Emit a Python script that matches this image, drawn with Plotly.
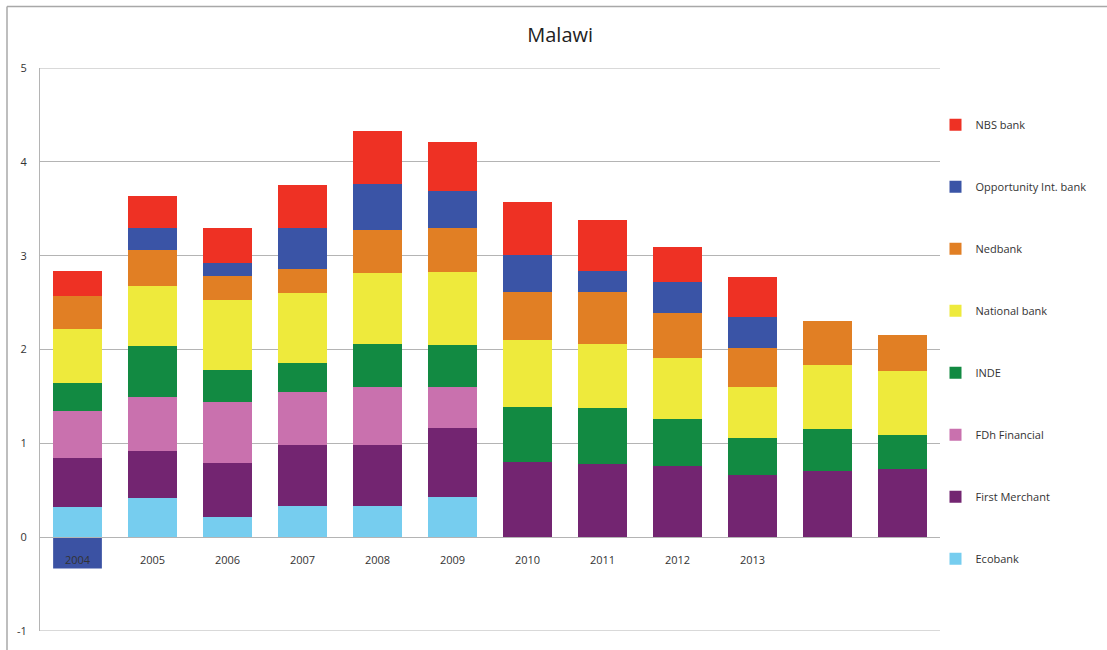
import plotly.graph_objects as go

years = ["2004", "2005", "2006", "2007", "2008", "2009", "2010", "2011", "2012", "2013", "", ""]

ecobank = [0.32, 0.42, 0.22, 0.33, 0.33, 0.43, 0, 0, 0, 0, 0, 0]
first_merchant = [0.52, 0.50, 0.57, 0.65, 0.65, 0.73, 0.80, 0.78, 0.76, 0.66, 0.71, 0.73]
fdh_financial = [0.50, 0.57, 0.65, 0.57, 0.62, 0.44, 0, 0, 0, 0, 0, 0]
inde = [0.30, 0.55, 0.34, 0.31, 0.46, 0.45, 0.59, 0.60, 0.50, 0.40, 0.44, 0.36]
national_bank = [0.58, 0.64, 0.75, 0.74, 0.76, 0.78, 0.71, 0.68, 0.65, 0.54, 0.69, 0.68]
nedbank = [0.35, 0.38, 0.25, 0.26, 0.45, 0.46, 0.51, 0.55, 0.48, 0.42, 0.46, 0.38]
opportunity = [0, 0.24, 0.14, 0.44, 0.49, 0.40, 0.40, 0.23, 0.33, 0.33, 0, 0]
nbs_bank = [0.27, 0.34, 0.37, 0.45, 0.57, 0.52, 0.56, 0.54, 0.37, 0.42, 0, 0]

y_ticks = [-1, 0, 1, 2, 3, 4, 5]
y_tick_text = ["-1", "0", "1", "2", "3", "4", "5"]

series = [
    ("Ecobank", ecobank, "#76CDEF"),
    ("First Merchant", first_merchant, "#732571"),
    ("FDh Financial", fdh_financial, "#C971AE"),
    ("INDE", inde, "#128A42"),
    ("National bank", national_bank, "#EEEA3C"),
    ("Nedbank", nedbank, "#E17F24"),
    ("Opportunity Int. bank", opportunity, "#3A54A6"),
    ("NBS bank", nbs_bank, "#EE3124"),
]

xs = list(range(len(years)))
BAR_W = 0.65
GRID = "#B4B4B4"

fig = go.Figure()
n = len(series)
for i, (name, vals, col) in enumerate(series):
    fig.add_trace(go.Bar(
        x=xs, y=vals, name=name, legendgroup=name, legendrank=n - i,
        marker=dict(color=col, line=dict(width=0)),
        width=BAR_W,
    ))

font_main = "Open Sans, Liberation Sans, sans-serif"

fig.update_layout(
    barmode="stack",
    width=1107, height=650,
    margin=dict(l=40, r=167, t=68, b=15),
    paper_bgcolor="white", plot_bgcolor="white",
    title=dict(text="Malawi", x=0.506, xanchor="center", y=0.946, yanchor="middle",
               font=dict(family=font_main, size=20, color="#222222")),
    font=dict(family=font_main, size=11, color="#333333"),
    legend=dict(
        x=0.995, xref="paper", xanchor="left", y=0.925, yanchor="top",
        traceorder="grouped", tracegroupgap=43,
        font=dict(family=font_main, size=11, color="#333333"),
        bgcolor="rgba(0,0,0,0)", itemclick=False,
    ),
    xaxis=dict(
        range=[-0.5, len(years) - 0.5],
        tickmode="array", tickvals=xs, ticktext=years,
        showgrid=False, zeroline=False, showline=False, ticks="",
        anchor="free", position=1/6,
        tickfont=dict(size=11, color="#333333"),
        ticklabelstandoff=15,
    ),
    yaxis=dict(
        range=[y_ticks[0], y_ticks[-1]], tickmode="array", tickvals=y_ticks, ticktext=y_tick_text,
        showgrid=True, gridcolor=GRID, gridwidth=1,
        zeroline=True, zerolinecolor=GRID, zerolinewidth=1,
        showline=True, linecolor=GRID, linewidth=1,
        ticks="", ticklabelstandoff=10,
        tickfont=dict(size=11, color="#333333"),
    ),
    showlegend=True,
)

# gridlines at the range edges (top and bottom)
for yv in (y_ticks[0], y_ticks[-1]):
    fig.add_shape(type="line", xref="paper", yref="y", x0=0, x1=1, y0=yv, y1=yv,
                  line=dict(color=GRID, width=1.2))

# highlighted (selected) first category label box
fig.add_shape(type="rect", xref="x", yref="y",
              x0=xs[0] - BAR_W / 2, x1=xs[0] + BAR_W / 2, y0=0, y1=-0.335,
              fillcolor="#3B52A3", line=dict(width=0), layer="below")

# outer frame (top and left edges)
fig.add_shape(type="line", xref="paper", yref="paper",
              x0=-33/900, x1=1.2, y0=1 + 62/567, y1=1 + 62/567,
              line=dict(color="#A8A8A8", width=1.5))
fig.add_shape(type="line", xref="paper", yref="paper",
              x0=-33/900, x1=-33/900, y0=1 + 62/567, y1=-0.1,
              line=dict(color="#A8A8A8", width=1.5))

fig.write_html("out.html", config={"displayModeBar": False},
               post_script="document.body.style.margin='0';")
